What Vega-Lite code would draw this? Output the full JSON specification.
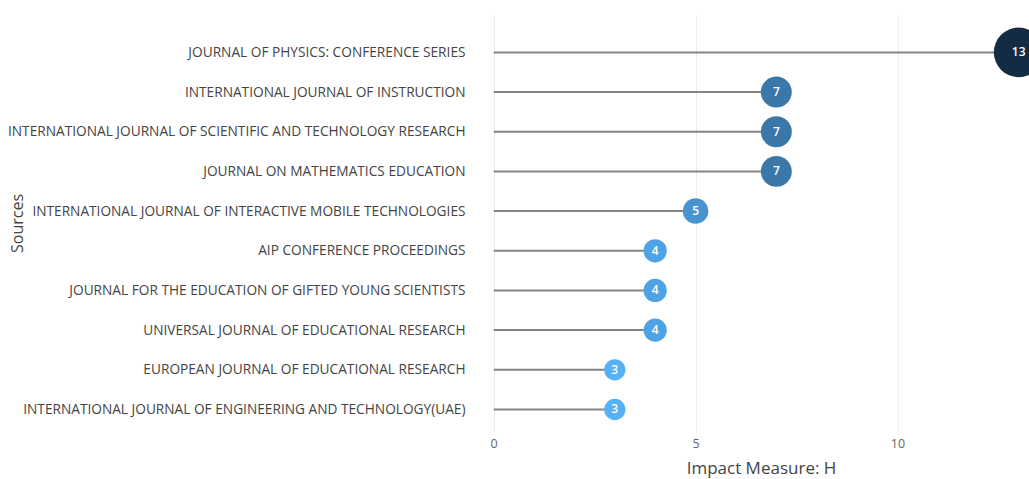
{
  "$schema": "https://vega.github.io/schema/vega-lite/v6.json",
  "autosize": {"type": "none"},
  "padding": {"left": 467, "top": 14, "right": 0, "bottom": 46},
  "width": 588,
  "height": 419,
  "background": "white",
  "config": {
    "view": {"stroke": null},
    "font": "Open Sans",
    "axis": {"gridColor": "#eeeeee", "gridWidth": 1, "domain": false, "ticks": false, "labelFont": "Open Sans", "titleFont": "Open Sans", "labelColor": "#444444", "titleColor": "#444444", "titleFontWeight": "normal"}
  },
  "data": {
    "values": [
      {"Source": "JOURNAL OF PHYSICS: CONFERENCE SERIES", "H": 13},
      {"Source": "INTERNATIONAL JOURNAL OF INSTRUCTION", "H": 7},
      {"Source": "INTERNATIONAL JOURNAL OF SCIENTIFIC AND TECHNOLOGY RESEARCH", "H": 7},
      {"Source": "JOURNAL ON MATHEMATICS EDUCATION", "H": 7},
      {"Source": "INTERNATIONAL JOURNAL OF INTERACTIVE MOBILE TECHNOLOGIES", "H": 5},
      {"Source": "AIP CONFERENCE PROCEEDINGS", "H": 4},
      {"Source": "JOURNAL FOR THE EDUCATION OF GIFTED YOUNG SCIENTISTS", "H": 4},
      {"Source": "UNIVERSAL JOURNAL OF EDUCATIONAL RESEARCH", "H": 4},
      {"Source": "EUROPEAN JOURNAL OF EDUCATIONAL RESEARCH", "H": 3},
      {"Source": "INTERNATIONAL JOURNAL OF ENGINEERING AND TECHNOLOGY(UAE)", "H": 3}
    ]
  },
  "encoding": {
    "y": {
      "field": "Source", "type": "nominal", "sort": null,
      "scale": {"type": "point", "padding": 0.78, "align": 0.62},
      "axis": {"title": "Sources", "labelFontSize": 13.7, "labelPadding": 2, "titleFontSize": 16, "titleX": -442, "titleY": 209, "labelLimit": 600}
    },
    "x": {
      "field": "H", "type": "quantitative",
      "scale": {"domain": [-0.66, 13.9], "nice": false, "zero": false},
      "axis": {"title": "Impact Measure: H", "values": [0, 5, 10], "labelFontSize": 12.5, "labelPadding": 4, "titleFontSize": 17, "titlePadding": 11, "labelColor": "#666666"}
    }
  },
  "layer": [
    {
      "mark": {"type": "rule", "color": "#858585", "strokeWidth": 2},
      "encoding": {"x2": {"datum": 0}}
    },
    {
      "mark": {"type": "circle", "opacity": 1},
      "encoding": {
        "size": {"field": "H", "type": "quantitative", "scale": {"type": "pow", "exponent": 2, "zero": false, "domain": [3, 13], "range": [452, 2463]}, "legend": null},
        "color": {"field": "H", "type": "quantitative", "scale": {"domain": [3, 13], "range": ["#56B1F7", "#132B43"], "interpolate": "lab"}, "legend": null}
      }
    },
    {
      "mark": {"type": "text", "color": "white", "fontSize": 12, "fontWeight": 600, "font": "Open Sans"},
      "encoding": {"text": {"field": "H", "type": "quantitative"}}
    }
  ]
}
